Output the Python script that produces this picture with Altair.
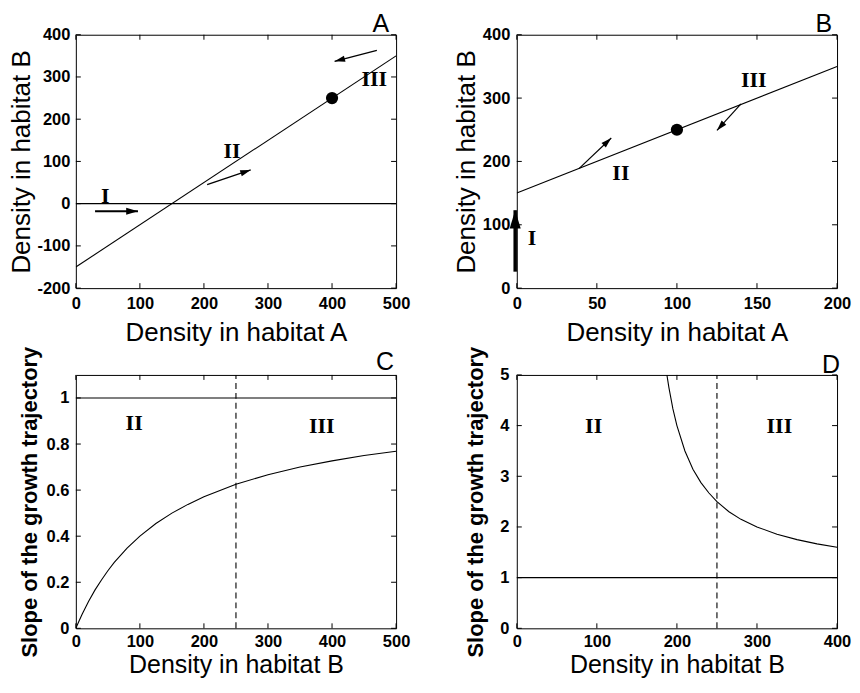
import math
import altair as alt
import pandas as pd

W, H = 321, 254
SANS = "Liberation Sans"
SERIF = "Liberation Serif"
HEAD = "M0,0L-2,-0.6L-2,0.6Z"

# ---------------- data ----------------
# Panel A
a_xdom, a_ydom = [0, 500], [-200, 400]
a_xticks = [0, 100, 200, 300, 400, 500]
a_yticks = [-200, -100, 0, 100, 200, 300, 400]
a_line_x, a_line_y = [0, 500], [-150, 350]
a_zero_x, a_zero_y = [0, 500], [0, 0]
a_dot_x, a_dot_y = [400], [250]
a_arr_x1, a_arr_y1 = [30, 205, 470], [-18, 45, 363]
a_arr_x2, a_arr_y2 = [97, 273, 404], [-18, 80, 337]
a_arr_w = [2, 1.3, 1.3]
a_arr_head = [140, 110, 110]
a_lab_x, a_lab_y = [46, 244, 466], [19, 125, 295]
a_lab = ["I", "II", "III"]

# Panel B
b_xdom, b_ydom = [0, 200], [0, 400]
b_xticks = [0, 50, 100, 150, 200]
b_yticks = [0, 100, 200, 300, 400]
b_line_x, b_line_y = [0, 200], [150, 350]
b_dot_x, b_dot_y = [100], [250]
b_arr_x1, b_arr_y1 = [-1, 39, 140], [26, 189, 291]
b_arr_x2, b_arr_y2 = [-1, 59, 125], [123, 237, 249]
b_arr_w = [3.5, 1.2, 1.2]
b_arr_head = [340, 110, 110]
b_lab_x, b_lab_y = [9.5, 65, 148], [79, 181, 329]
b_lab = ["I", "II", "III"]

# Panel C
c_xdom, c_ydom = [0, 500], [0, 1.1]
c_xticks = [0, 100, 200, 300, 400, 500]
c_yticks = [0, 0.2, 0.4, 0.6, 0.8, 1]
c_curve_x = [0, 5, 10, 20, 30, 40, 50, 60, 80, 100, 125, 150, 175, 200, 250, 300, 350, 400, 450, 500]
c_curve_y = [0, 0.032, 0.062, 0.118, 0.167, 0.21, 0.25, 0.286, 0.348, 0.40, 0.455, 0.50, 0.538, 0.571, 0.625, 0.667, 0.70, 0.727, 0.75, 0.769]
c_one_x, c_one_y = [0, 500], [1, 1]
c_dash_x, c_dash_y = [250, 250], [0, 1.1]
c_lab_x, c_lab_y = [91, 384], [0.89, 0.88]
c_lab = ["II", "III"]

# Panel D
d_xdom, d_ydom = [0, 400], [0, 5]
d_xticks = [0, 100, 200, 300, 400]
d_yticks = [0, 1, 2, 3, 4, 5]
d_curve_x = [187.5, 190, 195, 200, 210, 220, 230, 240, 250, 265, 280, 300, 325, 350, 375, 400]
d_curve_y = [5.0, 4.75, 4.33, 4.0, 3.5, 3.14, 2.875, 2.67, 2.5, 2.30, 2.15, 2.0, 1.857, 1.75, 1.667, 1.6]
d_one_x, d_one_y = [0, 400], [1, 1]
d_dash_x, d_dash_y = [250, 250], [0, 5]
d_lab_x, d_lab_y = [96, 328], [3.99, 3.99]
d_lab = ["II", "III"]

TITLE_DA = "Density in habitat A"
TITLE_DB = "Density in habitat B"
TITLE_SLOPE = "Slope of the growth trajectory"

LABEL_EXPR = "'' + datum.value"


def panel(letter, lpos, xdom, ydom, xticks, yticks, xtitle, ytitle, xtsize, ytsize, ytweight,
          pads, lines, dashed=None, dot=None, arrows=None, labels=None):
    xlp, xtp, ylp, ytp = pads
    xs = alt.Scale(domain=xdom, nice=False, zero=False)
    ys = alt.Scale(domain=ydom, nice=False, zero=False)
    xax = alt.Axis(values=xticks, title=xtitle, labelExpr=LABEL_EXPR,
                   labelPadding=xlp, titlePadding=xtp, titleFontSize=xtsize)
    yax = alt.Axis(values=yticks, title=ytitle, labelExpr=LABEL_EXPR,
                   labelPadding=ylp, titlePadding=ytp,
                   titleFontSize=ytsize, titleFontWeight=ytweight)
    layers = []
    for lx, ly in lines:
        df = pd.DataFrame({"x": lx, "y": ly})
        layers.append(alt.Chart(df).mark_line(color="black", strokeWidth=1.1, clip=True).encode(
            x=alt.X("x:Q", scale=xs, axis=xax), y=alt.Y("y:Q", scale=ys, axis=yax)))
    if dashed is not None:
        df = pd.DataFrame({"x": dashed[0], "y": dashed[1]})
        layers.append(alt.Chart(df).mark_line(color="black", strokeWidth=1.1, strokeDash=[6, 4]).encode(
            x=alt.X("x:Q", scale=xs), y=alt.Y("y:Q", scale=ys)))
    if dot is not None:
        df = pd.DataFrame({"x": dot[0], "y": dot[1]})
        layers.append(alt.Chart(df).mark_point(shape="circle", filled=True, color="black",
                                               size=150, opacity=1).encode(
            x=alt.X("x:Q", scale=xs), y=alt.Y("y:Q", scale=ys)))
    if arrows is not None:
        x1, y1, x2, y2, wd, hs = arrows
        kx = W / (xdom[1] - xdom[0])
        ky = H / (ydom[1] - ydom[0])
        ang = [math.degrees(math.atan2(-(b2 - b1) * ky, (a2 - a1) * kx)) % 360
               for a1, b1, a2, b2 in zip(x1, y1, x2, y2)]
        for i in range(len(x1)):
            df = pd.DataFrame({"x": [x1[i]], "y": [y1[i]], "x2": [x2[i]], "y2": [y2[i]],
                               "ang": [ang[i]]})
            layers.append(alt.Chart(df).mark_rule(color="black", strokeWidth=wd[i]).encode(
                x=alt.X("x:Q", scale=xs), y=alt.Y("y:Q", scale=ys), x2="x2:Q", y2="y2:Q"))
            layers.append(alt.Chart(df).mark_point(shape=HEAD, filled=True, color="black",
                                                   size=hs[i], opacity=1, strokeWidth=0).encode(
                x=alt.X("x2:Q", scale=xs), y=alt.Y("y2:Q", scale=ys),
                angle=alt.Angle("ang:Q", scale=None)))
    if labels is not None:
        df = pd.DataFrame({"x": labels[0], "y": labels[1], "t": labels[2]})
        layers.append(alt.Chart(df).mark_text(font=SERIF, fontSize=22, fontWeight="bold",
                                              color="black", baseline="middle").encode(
            x=alt.X("x:Q", scale=xs), y=alt.Y("y:Q", scale=ys), text="t:N"))
    # inner ticks (MATLAB style)
    tx = pd.DataFrame({"v": xticks})
    ty = pd.DataFrame({"v": yticks})
    layers.append(alt.Chart(tx).mark_rule(color="black", strokeWidth=1).encode(
        x=alt.X("v:Q", scale=xs), y=alt.value(H), y2=alt.value(H - 5)))
    layers.append(alt.Chart(tx).mark_rule(color="black", strokeWidth=1).encode(
        x=alt.X("v:Q", scale=xs), y=alt.value(0), y2=alt.value(5)))
    layers.append(alt.Chart(ty).mark_rule(color="black", strokeWidth=1).encode(
        y=alt.Y("v:Q", scale=ys), x=alt.value(0), x2=alt.value(5)))
    layers.append(alt.Chart(ty).mark_rule(color="black", strokeWidth=1).encode(
        y=alt.Y("v:Q", scale=ys), x=alt.value(W), x2=alt.value(W - 5)))
    # panel letter
    layers.append(alt.Chart(pd.DataFrame({"t": [letter]})).mark_text(
        font=SANS, fontSize=25, align="right", baseline="alphabetic", color="black").encode(
        x=alt.value(W - lpos[0]), y=alt.value(-lpos[1]), text="t:N"))
    return alt.layer(*layers).properties(width=W, height=H)


pA = panel("A", (7, 3), a_xdom, a_ydom, a_xticks, a_yticks, TITLE_DA, TITLE_DB, 26, 26, "normal",
           (7, 8, 6, 2),
           [(a_line_x, a_line_y), (a_zero_x, a_zero_y)],
           dot=(a_dot_x, a_dot_y),
           arrows=(a_arr_x1, a_arr_y1, a_arr_x2, a_arr_y2, a_arr_w, a_arr_head),
           labels=(a_lab_x, a_lab_y, a_lab))
pB = panel("B", (5, 3), b_xdom, b_ydom, b_xticks, b_yticks, TITLE_DA, TITLE_DB, 26, 26, "normal",
           (7, 8, 7, 3),
           [(b_line_x, b_line_y)],
           dot=(b_dot_x, b_dot_y),
           arrows=(b_arr_x1, b_arr_y1, b_arr_x2, b_arr_y2, b_arr_w, b_arr_head),
           labels=(b_lab_x, b_lab_y, b_lab))
pC = panel("C", (2, 5), c_xdom, c_ydom, c_xticks, c_yticks, TITLE_DB, TITLE_SLOPE, 25, 22, "bold",
           (5, 3, 7, 4),
           [(c_curve_x, c_curve_y), (c_one_x, c_one_y)],
           dashed=(c_dash_x, c_dash_y),
           labels=(c_lab_x, c_lab_y, c_lab))
pD = panel("D", (-3, 2), d_xdom, d_ydom, d_xticks, d_yticks, TITLE_DB, TITLE_SLOPE, 25, 22, "bold",
           (5, 3, 8, 12),
           [(d_curve_x, d_curve_y), (d_one_x, d_one_y)],
           dashed=(d_dash_x, d_dash_y),
           labels=(d_lab_x, d_lab_y, d_lab))

chart = alt.concat(pA, pB, pC, pD, columns=2,
                   spacing=alt.RowColnumber(row=87, column=121),
                   bounds="flush").configure_view(
    stroke="black", strokeWidth=1
).configure_axis(
    domain=False, ticks=False, tickSize=0, grid=False,
    labelFont=SANS, labelFontSize=16.5, labelFontWeight="bold", labelColor="black",
    labelFlush=False,
    titleFont=SANS, titleFontSize=26, titleFontWeight="normal", titleColor="black"
).properties(background="white", padding={"left": 0, "top": 2, "right": 0, "bottom": 0})

chart.save("out.html", embed_options={"renderer": "svg", "actions": False})
